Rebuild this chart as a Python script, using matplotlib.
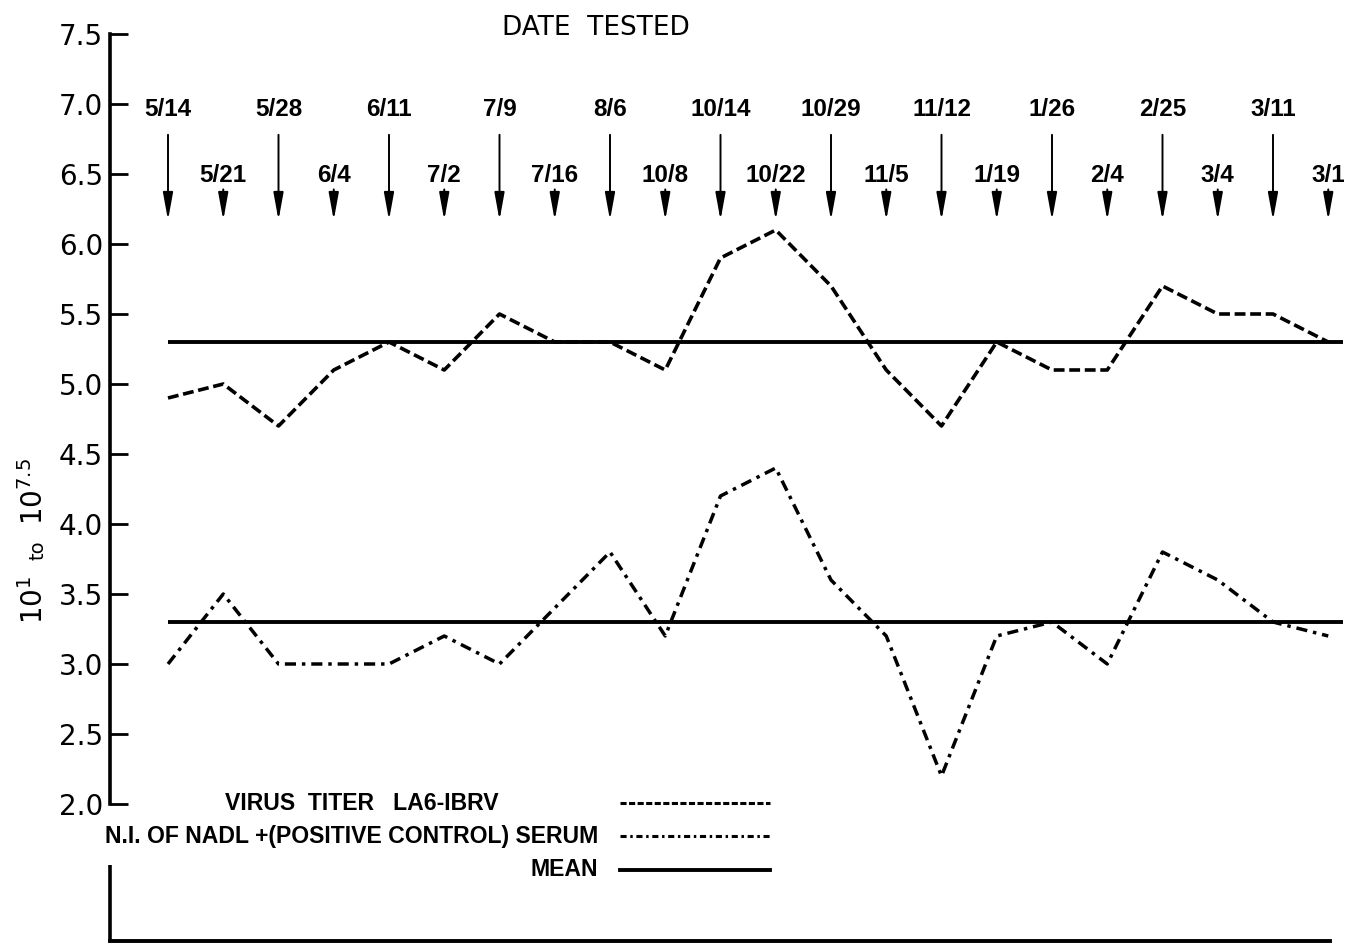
import matplotlib
matplotlib.use("Agg")
import matplotlib.pyplot as plt
import numpy as np

# ------------------------------------------
# data
# ------------------------------------------
dates = ["5/14", "5/21", "5/28", "6/4", "6/11", "7/2", "7/9", "7/16",
         "8/6", "10/8", "10/14", "10/22", "10/29", "11/5", "11/12", "1/19",
         "1/26", "2/4", "2/25", "3/4", "3/11", "3/1"]
virus_titer = [4.9, 5.0, 4.7, 5.1, 5.3, 5.1, 5.5, 5.3,
               5.3, 5.1, 5.9, 6.1, 5.7, 5.1, 4.7, 5.3,
               5.1, 5.1, 5.7, 5.5, 5.5, 5.3]
ni_serum = [3.0, 3.5, 3.0, 3.0, 3.0, 3.2, 3.0, 3.4,
            3.8, 3.2, 4.2, 4.4, 3.6, 3.2, 2.2, 3.2,
            3.3, 3.0, 3.8, 3.6, 3.3, 3.2]
mean_titer = 5.3
mean_serum = 3.3
y_ticks = [2.0, 2.5, 3.0, 3.5, 4.0, 4.5, 5.0, 5.5, 6.0, 6.5, 7.0, 7.5]

LETTER = "Liberation Sans"

W, H = 1350, 950
fig = plt.figure(figsize=(W / 100, H / 100), dpi=100)
fig.patch.set_facecolor("white")

# axes box in pixels: y axis at x=110, 7.5 at y=34, bottom rule at y=941
AX_L, AX_R, AX_T, AX_B = 110, 1345, 34, 941
ax = fig.add_axes([AX_L / W, (H - AX_B) / H, (AX_R - AX_L) / W, (AX_B - AX_T) / H])
x = np.arange(len(dates))
px = 55.25  # pixels per date step


def data_x(p):
    return (p - 168) / px


def data_y(p):
    return 2.0 + (804 - p) / 140


ax.set_xlim(data_x(AX_L), data_x(AX_R))
ax.set_ylim(data_y(AX_B), 7.5)

for s in ["top", "right", "bottom"]:
    ax.spines[s].set_visible(False)
ax.spines["left"].set_linewidth(2.6)
ax.spines["left"].set_bounds(2.0, 7.5)
ax.set_xticks([])
ax.set_yticks(y_ticks)
ax.set_yticklabels([f"{v:.1f}" for v in y_ticks], fontsize=20)
ax.tick_params(axis="y", direction="in", length=13, width=2.0, pad=5)

# series
ax.plot(x, virus_titer, color="black", lw=2.6, ls=(0, (3.0, 1.3)))
ax.plot(x, ni_serum, color="black", lw=2.5, ls=(0, (3.2, 1.7, 1.0, 1.7)))
ax.hlines([mean_titer, mean_serum], x[0], data_x(1343), color="black", lw=2.8)

# date arrows: long ones on even positions, short on odd
for i, d in enumerate(dates):
    if i % 2 == 0:
        top, lab_y = 6.78, 6.96
    else:
        top, lab_y = 6.39, 6.49
    ax.annotate("", xy=(i, 6.17), xytext=(i, top),
                arrowprops=dict(arrowstyle="-|>,head_length=1.1,head_width=0.2",
                                lw=1.4, color="black", mutation_scale=15,
                                shrinkA=0, shrinkB=0))
    ax.text(i, lab_y, d, ha="center", va="center", fontsize=17.5,
            family=LETTER, fontweight="bold")

ax.text(7.75, 7.54, "DATE  TESTED", ha="center", va="center", fontsize=19)

# y label
fig.text(34 / W, 1 - 600 / H, "10$^{1}$", rotation=90, ha="center",
         va="center", fontsize=20)
fig.text(38 / W, 1 - 550 / H, "to", rotation=90, ha="center",
         va="center", fontsize=14)
fig.text(34 / W, 1 - 492 / H, "10$^{7.5}$", rotation=90, ha="center",
         va="center", fontsize=20)

# legend
x0, x1 = data_x(620), data_x(770)
ax.plot([x0, x1], [data_y(803)] * 2, color="black", lw=2.2, ls=(0, (2, 0.8)))
ax.plot([x0, x1], [data_y(836)] * 2, color="black", lw=2.2, ls=(0, (2, 1.2, 0.8, 1.2)))
ax.plot([x0, x1], [data_y(870)] * 2, color="black", lw=2.8)
ax.text(data_x(362), data_y(803), "VIRUS  TITER   LA6-IBRV", ha="center",
        va="center", fontsize=16.6, family=LETTER, fontweight="bold")
ax.text(data_x(598), data_y(836), "N.I. OF NADL +(POSITIVE CONTROL) SERUM",
        ha="right", va="center", fontsize=16.6, family=LETTER, fontweight="bold")
ax.text(data_x(598), data_y(870), "MEAN", ha="right", va="center",
        fontsize=16.6, family=LETTER, fontweight="bold")

# lower frame segment and bottom rule
ax.plot([0, 0], [0, (AX_B - 865) / (AX_B - AX_T)], color="black",
        lw=2.6, transform=ax.transAxes, clip_on=False, solid_capstyle="butt")
ax.plot([0, (1330 - AX_L) / (AX_R - AX_L)], [0, 0], color="black",
        lw=2.8, transform=ax.transAxes, clip_on=False)

fig.savefig("out.png", dpi=100)
